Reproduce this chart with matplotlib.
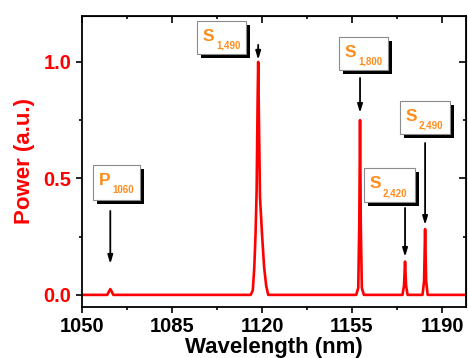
import matplotlib

matplotlib.use("Agg")
import matplotlib.pyplot as plt
from matplotlib.patches import Rectangle
from matplotlib.ticker import MultipleLocator

# spectrum
wavelength = [1050.0, 1059.8, 1060.5, 1061.0, 1061.5, 1062.2,
              1115.6, 1116.4, 1117.0, 1117.5, 1117.9, 1118.3, 1118.5, 1118.8,
              1119.2, 1120.0, 1120.8, 1121.6, 1122.4,
              1156.6, 1157.4, 1157.8, 1158.1, 1158.4, 1158.8, 1159.6,
              1174.6, 1175.2, 1175.6, 1176.0, 1176.6,
              1182.4, 1183.0, 1183.4, 1183.8, 1184.4, 1199.3]
power = [0.0, 0.0, 0.015, 0.025, 0.015, 0.0,
         0.0, 0.02, 0.12, 0.27, 0.45, 0.85, 1.0, 0.75,
         0.42, 0.26, 0.12, 0.04, 0.0,
         0.0, 0.03, 0.3, 0.75, 0.3, 0.03, 0.0,
         0.0, 0.04, 0.143, 0.04, 0.0,
         0.0, 0.06, 0.282, 0.06, 0.0, 0.0]

# labelled peaks
peak_main = ["P", "S", "S", "S", "S"]
peak_sub = ["1060", "1,490", "1,800", "2,420", "2,490"]
peak_wl = [1061.0, 1118.5, 1158.1, 1175.6, 1183.4]
arrow_tip = [0.133, 1.009, 0.781, 0.163, 0.30]
arrow_tail = [0.36, 1.073, 0.931, 0.373, 0.652]
# box layout in figure pixels (left, top, width, height)
boxes = [(93, 165, 47, 35), (197, 21, 49, 33), (339, 37, 49, 33),
         (364, 168, 51, 34), (400, 101, 50, 33)]

W, H = 468, 358
ORANGE = "#ff8c1a"
FONT = "Liberation Sans"

plt.rcParams["font.family"] = [FONT, "DejaVu Sans"]
plt.rcParams["font.weight"] = "bold"

fig = plt.figure(figsize=(W / 100, H / 100), dpi=100)
ax = fig.add_axes([82 / W, 1 - 307 / H, 384 / W, 291 / H])

ax.plot(wavelength, power, color="red", lw=1.9, solid_joinstyle="round")

ax.set_xlim(1050, 1199.3)
ax.set_ylim(-0.052, 1.197)
ax.xaxis.set_major_locator(MultipleLocator(35))
ax.xaxis.set_minor_locator(MultipleLocator(17.5))
ax.yaxis.set_major_locator(MultipleLocator(0.5))
ax.yaxis.set_minor_locator(MultipleLocator(0.25))
ax.tick_params(which="major", direction="out", length=4.5, width=1.2,
               labelsize=14.5, pad=3)
ax.tick_params(which="minor", direction="out", length=2.5, width=1.2)
ax.tick_params(axis="y", labelcolor="red")
for s in ax.spines.values():
    s.set_linewidth(1.3)

# mirrored ticks pointing inwards on top and right
top = ax.secondary_xaxis("top")
top.xaxis.set_major_locator(MultipleLocator(35))
top.xaxis.set_minor_locator(MultipleLocator(17.5))
top.tick_params(which="major", direction="in", length=5, width=1.2, labeltop=False)
top.tick_params(which="minor", direction="in", length=2.5, width=1.2)
right = ax.secondary_yaxis("right")
right.yaxis.set_major_locator(MultipleLocator(0.5))
right.yaxis.set_minor_locator(MultipleLocator(0.25))
right.tick_params(which="major", direction="in", length=5, width=1.2, labelright=False)
right.tick_params(which="minor", direction="in", length=2.5, width=1.2)

ax.set_xlabel("Wavelength (nm)", fontsize=16, fontweight="bold", labelpad=0.5)
ax.set_ylabel("Power (a.u.)", fontsize=16, fontweight="bold", color="red",
              labelpad=6)

for i in range(len(peak_wl)):
    ax.annotate("", xy=(peak_wl[i], arrow_tip[i]),
                xytext=(peak_wl[i], arrow_tail[i]),
                arrowprops=dict(arrowstyle="-|>,head_length=0.5,head_width=0.15",
                                color="black", lw=1.3, shrinkA=0, shrinkB=0))
    left, top_px, bw, bh = boxes[i]
    shadow = Rectangle(((left + 4) / W, 1 - (top_px + bh + 4) / H), bw / W, bh / H,
                       transform=fig.transFigure, facecolor="black",
                       edgecolor="none", zorder=5)
    box = Rectangle((left / W, 1 - (top_px + bh) / H), bw / W, bh / H,
                    transform=fig.transFigure, facecolor="white",
                    edgecolor="#8c8c8c", lw=0.8, zorder=6)
    fig.patches.extend([shadow, box])
    fig.text((left + 5.5) / W, 1 - (top_px + 20) / H, peak_main[i],
             color=ORANGE, fontsize=12.5, fontweight="bold", va="baseline",
             zorder=7)
    fig.text((left + 19) / W, 1 - (top_px + 28) / H, peak_sub[i],
             color=ORANGE, fontsize=7, fontweight="bold", va="baseline",
             zorder=7)

fig.savefig("out.png", dpi=100, facecolor="white")
